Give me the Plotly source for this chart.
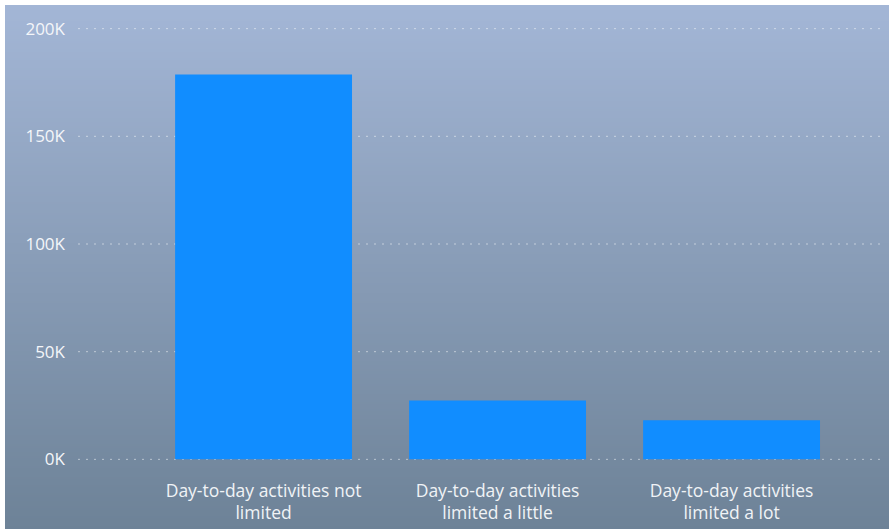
import base64
import struct
import zlib

import plotly.graph_objects as go

# Counts of people by how much day-to-day activities are limited
categories = [
    "Day-to-day activities not<br>limited",
    "Day-to-day activities<br>limited a little",
    "Day-to-day activities<br>limited a lot",
]
counts = [178700, 27300, 18100]

y_tick_values = [0, 50000, 100000, 150000, 200000]
y_tick_labels = ["0K", "50K", "100K", "150K", "200K"]

W, H = 889, 529
ML, MR, MT, MB = 78, 3, 28, 69
plot_w = W - ML - MR
plot_h = H - MT - MB


def gradient_png(top, bottom, rows=256, cols=2):
    """Small vertical-gradient PNG encoded as a data URI."""
    raw = b""
    for i in range(rows):
        t = i / (rows - 1)
        px = bytes(round(a + (b - a) * t) for a, b in zip(top, bottom))
        raw += b"\x00" + px * cols

    def chunk(tag, data):
        c = struct.pack(">I", len(data)) + tag + data
        return c + struct.pack(">I", zlib.crc32(tag + data) & 0xFFFFFFFF)

    png = b"\x89PNG\r\n\x1a\n"
    png += chunk(b"IHDR", struct.pack(">IIBBBBB", cols, rows, 8, 2, 0, 0, 0))
    png += chunk(b"IDAT", zlib.compress(raw, 9))
    png += chunk(b"IEND", b"")
    return "data:image/png;base64," + base64.b64encode(png).decode()


fig = go.Figure(
    go.Bar(
        x=[0, 1, 2],
        y=counts,
        marker=dict(color="#118DFF", line=dict(width=0)),
        width=0.756,
        hoverinfo="skip",
    )
)

# background panel (starts 5px in from the top-left corner)
x0_px, y0_px = 5, 5
bg = dict(
    source=gradient_png((163, 182, 214), (109, 130, 151)),
    xref="paper", yref="paper",
    x=(x0_px - ML) / plot_w, y=(H - MB - y0_px) / plot_h,
    sizex=(W - x0_px) / plot_w + 0.01, sizey=(H - y0_px) / plot_h + 0.01,
    xanchor="left", yanchor="top",
    sizing="stretch", layer="below",
)

# dotted horizontal gridlines at every y tick
grid = [
    dict(
        type="line", xref="paper", yref="y", layer="below",
        x0=0, x1=1, y0=v, y1=v,
        line=dict(color="rgba(255,255,255,0.5)", width=1, dash="2px,6px"),
    )
    for v in y_tick_values
]

fig.update_layout(
    width=W, height=H,
    margin=dict(l=ML, r=MR, t=MT, b=MB),
    paper_bgcolor="white",
    plot_bgcolor="rgba(0,0,0,0)",
    images=[bg],
    shapes=grid,
    showlegend=False,
    font=dict(family="Open Sans, Noto Sans, sans-serif", color="white"),
    xaxis=dict(
        range=[-0.793, 2.66],
        tickvals=[0, 1, 2],
        ticktext=categories,
        tickfont=dict(size=17.5, color="#F0F3F6"),
        showgrid=False, zeroline=False, showline=False,
        ticks="", ticklabelstandoff=18,
        fixedrange=True,
    ),
    yaxis=dict(
        range=[-300, 200300],
        tickvals=y_tick_values,
        ticktext=y_tick_labels,
        tickfont=dict(size=17, color="#F4F6F9"),
        showgrid=False,
        zeroline=False, showline=False,
        ticks="", ticklabelstandoff=12,
        fixedrange=True,
    ),
)

fig.write_html("out.html")
